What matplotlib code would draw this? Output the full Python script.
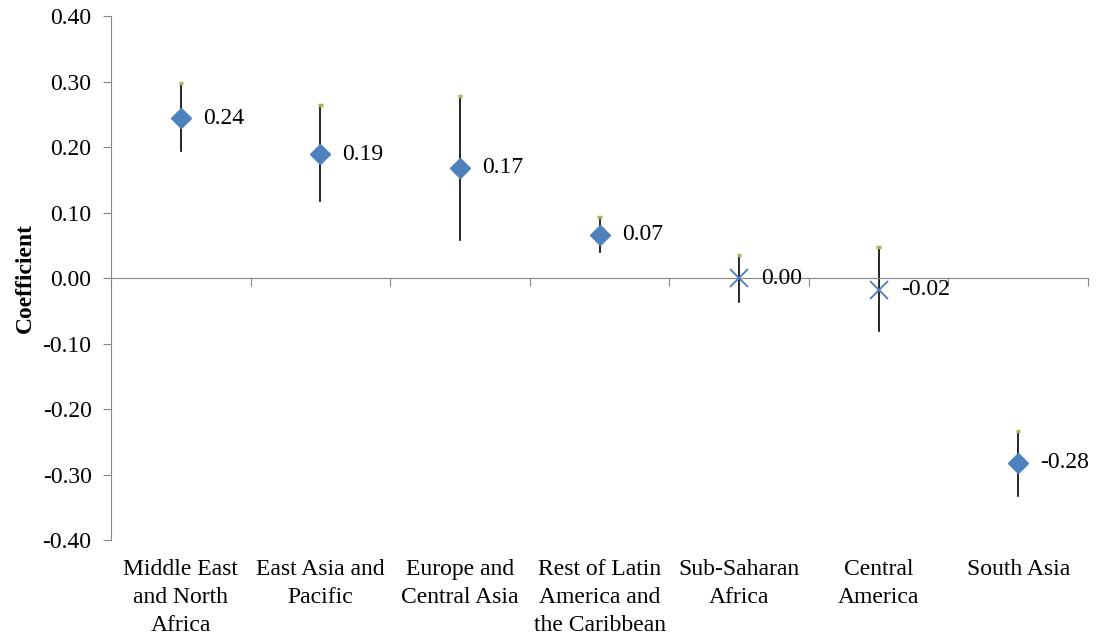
import numpy as np
import matplotlib.pyplot as plt

plt.rcParams['font.family'] = ['Liberation Serif', 'DejaVu Serif']
plt.rcParams['font.size'] = 17

# Regional coefficients with confidence bounds
regions = ['Middle East\nand North\nAfrica', 'East Asia and\nPacific',
           'Europe and\nCentral Asia', 'Rest of Latin\nAmerica and\nthe Caribbean',
           'Sub-Saharan\nAfrica', 'Central\nAmerica', 'South Asia']
coef = [0.244, 0.189, 0.168, 0.066, 0.000, -0.018, -0.282]
coef_labels = ['0.24', '0.19', '0.17', '0.07', '0.00', '-0.02', '-0.28']
upper = [0.298, 0.264, 0.278, 0.093, 0.035, 0.047, -0.234]
lower = [0.194, 0.118, 0.058, 0.040, -0.037, -0.081, -0.333]
significant = [True, True, True, True, False, False, True]
yticks = [-0.40, -0.30, -0.20, -0.10, 0.00, 0.10, 0.20, 0.30, 0.40]
ytick_labels = ['-0.40', '-0.30', '-0.20', '-0.10', '0.00', '0.10', '0.20', '0.30', '0.40']

axis_grey = '#868686'
blue = '#4F81BD'

fig = plt.figure(figsize=(10.98, 6.36), dpi=100)
ax = fig.add_axes([0.1011, 0.1509, 0.8898, 0.8239])

x = np.arange(len(regions))

# confidence intervals: black whisker with a small green cap on top
for xi, lo, hi in zip(x, lower, upper):
    ax.plot([xi, xi], [lo, hi], color='black', lw=1.2, zorder=2)
    ax.plot([xi - 0.016, xi + 0.016], [hi, hi], color='#9BBB59', lw=2.5,
            solid_capstyle='butt', zorder=3)

for xi, c, lab, sig in zip(x, coef, coef_labels, significant):
    if sig:
        ax.plot(xi, c, marker='D', ms=10, color=blue, mec=blue, zorder=4)
    else:
        ax.plot(xi, c, marker='x', ms=13, mew=1.3, color='#4A7EBB', zorder=4)
    ax.annotate(lab, xy=(xi, c), xytext=(16, 0), textcoords='offset points',
                va='center', ha='left')

ax.set_xlim(-0.5, len(regions) - 0.5)
ax.set_ylim(-0.40, 0.40)
ax.set_yticks(yticks)
ax.set_yticklabels(ytick_labels)

# category axis sits on the zero line, ticks mark the boundaries
ax.spines['bottom'].set_position(('data', 0))
ax.spines['bottom'].set_color(axis_grey)
ax.spines['left'].set_color(axis_grey)
ax.spines['top'].set_visible(False)
ax.spines['right'].set_visible(False)
ax.set_xticks(np.arange(-0.5, len(regions), 1.0))
ax.set_xticklabels([])
ax.tick_params(axis='x', length=6, color=axis_grey, direction='out')
ax.tick_params(axis='y', length=6, color=axis_grey, direction='out', pad=8)

for xi, name in zip(x, regions):
    ax.annotate(name, xy=(xi, 0), xycoords=('data', 'axes fraction'),
                xytext=(0, -14), textcoords='offset points',
                ha='center', va='top', linespacing=1.42)

ax.set_ylabel('Coefficient', fontweight='bold', labelpad=5)

fig.savefig('out.png', dpi=100)
